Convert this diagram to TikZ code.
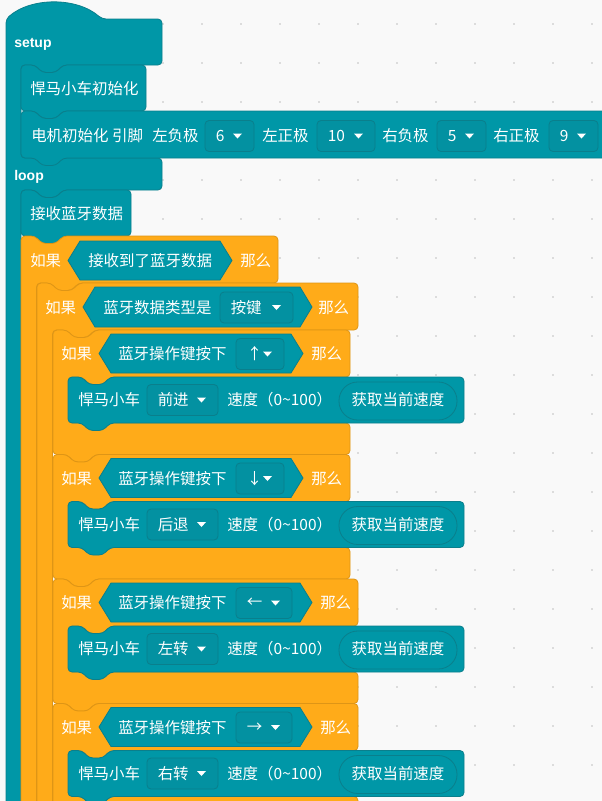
\documentclass[tikz,border=0pt]{standalone}
\usepackage{fontspec}
\setmainfont{Noto Sans CJK SC}
\newfontfamily\hdfont{Liberation Sans}
\usepackage{tikz}
\usetikzlibrary{positioning}

\definecolor{blk}{HTML}{0097A7}
\definecolor{blkline}{HTML}{0A7F8C}
\definecolor{ddfill}{HTML}{0391A1}
\definecolor{ctl}{HTML}{FFAB19}
\definecolor{ctlline}{HTML}{DE9516}
\definecolor{canvas}{HTML}{F9F9F9}
\definecolor{griddot}{HTML}{DCDCDC}

\tikzset{
  tealblk/.style={draw=blkline, fill=blk, line width=0.6pt, rounded corners=3pt},
  ctlblk/.style={draw=ctlline, fill=ctl, line width=0.6pt, rounded corners=3pt},
  ddbox/.style={draw=blkline, fill=ddfill, line width=0.6pt, rounded corners=3pt},
  hexcond/.style={draw=blkline, fill=blk, line width=0.6pt},
  pill/.style={draw=blkline, fill=blk, line width=0.6pt, rounded corners=14pt},
  lbl/.style={text=white, inner sep=0pt, anchor=west, font=\fontsize{11.6}{13}\selectfont},
  hd/.style={lbl, font=\hdfont\bfseries\fontsize{10.5}{12}\selectfont},
}

% stack block: style, left, top, right, bottom
\newcommand{\sblock}[5]{\draw[#1] (#2,#3) -- ({#2+14},#3) -- ({#2+21},{#3+7.5}) -- ({#2+35},{#3+7.5}) -- ({#2+42},#3) -- (#4,#3) -- (#4,#5) -- ({#2+42},#5) -- ({#2+35},{#5+7.5}) -- ({#2+21},{#5+7.5}) -- ({#2+14},#5) -- (#2,#5) -- cycle;}
% if block: left, top, right, header bottom, mouth bottom, bottom
\newcommand{\cblock}[6]{\draw[ctlblk] (#1,#2) -- ({#1+14},#2) -- ({#1+21},{#2+7.5}) -- ({#1+35},{#2+7.5}) -- ({#1+42},#2) -- (#3,#2) -- (#3,#4) -- ({#1+57.5},#4) -- ({#1+50.5},{#4+7.5}) -- ({#1+36.5},{#4+7.5}) -- ({#1+29.5},#4) -- ({#1+15.5},#4) -- ({#1+15.5},#5) -- (#3,#5) -- (#3,#6) -- ({#1+42},#6) -- ({#1+35},{#6+7.5}) -- ({#1+21},{#6+7.5}) -- ({#1+14},#6) -- (#1,#6) -- cycle;}
% boolean: left point, right point, top, bottom
\newcommand{\hexc}[4]{\draw[hexcond] (#1,{(#3+#4)/2}) -- ({#1+12},#3) -- ({#2-12},#3) -- (#2,{(#3+#4)/2}) -- ({#2-12},#4) -- ({#1+12},#4) -- cycle;}
% dropdown: name, left, right, centre y, text
\newcommand{\ddown}[5]{\draw[ddbox] (#2,{#4-15.5}) rectangle (#3,{#4+15.5});
  \node[lbl] (#1) at ({#2+10.5},#4) {#5};
  \fill[white] ({#3-21},{#4-2.5}) -- ({#3-12},{#4-2.5}) -- ({#3-16.5},{#4+2.5}) -- cycle;}

\begin{document}
\begin{tikzpicture}[x=0.75pt, y=-0.75pt]
    \path[use as bounding box, clip] (0,0) rectangle (602,801);
    \fill[canvas] (0,0) rectangle (602,801);
    \foreach \gx in {7,46,...,592}
        \foreach \gy in {23.7,62.7,...,801}
            \fill[griddot] ({\gx-1},{\gy-1}) rectangle +(2,2);
    % setup / loop
    \draw[tealblk] (6,19) .. controls (31,-3) and (77,-3) .. (102,19) -- (162,19) -- (162,65) -- (63,65) -- (56,72.5) -- (42,72.5) -- (35,65) -- (21,65) -- (21,158) -- (162,158) -- (162,190) -- (63,190) -- (56,197.5) -- (42,197.5) -- (35,190) -- (21,190) -- (21,900) -- (6,900) -- cycle;
    \node[hd] (setup) at (14,44.5) {setup};
    \sblock{tealblk}{21}{65}{146}{111}
    \node[lbl] (init) at (30,89) {悍马小车初始化};
    \sblock{tealblk}{21}{111}{640}{158}
    \node[lbl] (motor) at (31,136) {电机初始化 引脚};
    \node[lbl] (lneg) at (152,136) {左负极};
    \ddown{lnegpin}{205}{254}{136}{6}
    \node[lbl] (lpos) at (262,136) {左正极};
    \ddown{lpospin}{317}{375}{136}{10}
    \node[lbl] (rneg) at (382,136) {右负极};
    \ddown{rnegpin}{437}{486}{136}{5}
    \node[lbl] (rpos) at (493,136) {右正极};
    \ddown{rpospin}{549}{598}{136}{9}
    \node[hd] (loop) at (14,176.5) {loop};
    \sblock{tealblk}{21}{190}{131}{236}
    \node[lbl] (recv) at (30,213.5) {接收蓝牙数据};
    % if 1
    \cblock{21}{236}{278}{283}{900}{930}
    \node[lbl] (if1) at (30,260.5) {如果};
    \hexc{68}{232}{241}{280}
    \node[lbl] (cond1) at (88,260.5) {接收到了蓝牙数据};
    \node[lbl] (then1) at (240,260.5) {那么};
    % if 2
    \cblock{37}{283}{358}{330}{900}{930}
    \node[lbl] (if2) at (45,307.5) {如果};
    \hexc{83}{312}{287}{327}
    \node[lbl] (cond2) at (103,307.5) {蓝牙数据类型是};
    \ddown{keytype}{220}{293}{307.5}{按键}
    \node[lbl] (then2) at (318,307.5) {那么};
    % if 3..6
    \foreach \k/\arw/\act/\rr/\hx/\dx in {0/↑/前进/350/303/284, 1/↓/后退/350/303/284, 2/←/左转/358/312/292, 3/→/右转/358/312/292} {
        \pgfmathtruncatemacro\n{\k+3}
        \pgfmathsetmacro\T{330+124.5*\k}
        \pgfmathsetmacro\H{\T+47}
        \pgfmathsetmacro\M{\T+93}
        \pgfmathsetmacro\B{\T+124.5}
        \pgfmathsetmacro\yc{\T+24}
        \pgfmathsetmacro\ys{\H+23}
        \cblock{53}{\T}{\rr}{\H}{\M}{\B}
        \node[lbl] (if\n) at (61,\yc) {如果};
        \hexc{99}{\hx}{\T+4}{\T+43}
        \node[lbl] (cond\n) at (118,\yc) {蓝牙操作键按下};
        \ddown{key\n}{236}{\dx}{\yc}{\arw}
        \node[lbl] (then\n) at (\hx+8,\yc) {那么};
        \sblock{tealblk}{68}{\H}{464}{\M}
        \node[lbl] (car\n) at (78,\ys) {悍马小车};
        \ddown{dir\n}{147}{218}{\ys}{\act}
        \node[lbl] (speed\n) at (227,\ys) {速度（0\textasciitilde 100）};
        \draw[pill] (339,\H+5) rectangle (457,\H+43);
        \node[lbl, anchor=center] (cur\n) at (398,\ys) {获取当前速度};
    }
\end{tikzpicture}
\end{document}
